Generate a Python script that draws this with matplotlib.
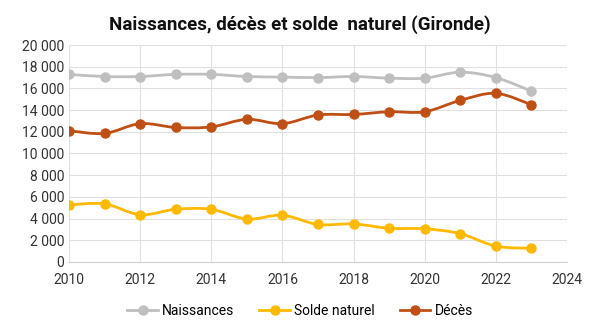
import matplotlib.pyplot as plt
from matplotlib.path import Path
from matplotlib.patches import PathPatch
from matplotlib.lines import Line2D
import numpy as np

years = [2010, 2011, 2012, 2013, 2014, 2015, 2016, 2017, 2018, 2019, 2020, 2021, 2022, 2023]
naissances = [17300, 17100, 17100, 17300, 17300, 17100, 17050, 17000, 17100, 16950, 16950, 17500, 17000, 15750]
deces = [12100, 11850, 12750, 12400, 12450, 13150, 12750, 13550, 13600, 13850, 13850, 14900, 15550, 14500]
solde = [5250, 5350, 4350, 4850, 4850, 3950, 4300, 3450, 3500, 3100, 3050, 2600, 1450, 1250]

series = [
    ("Naissances", naissances, "#BFBFBF"),
    ("Solde naturel", solde, "#FFB900"),
    ("Décès", deces, "#C04F15"),
]

plt.rcParams["font.family"] = ["Liberation Sans Narrow", "Roboto", "DejaVu Sans"]


def smooth_path(x, y, t=1 / 6):
    # Excel-like smoothed line as cubic bezier segments
    pts = np.column_stack([x, y]).astype(float)
    verts = [pts[0]]
    codes = [Path.MOVETO]
    n = len(pts)
    for i in range(n - 1):
        p0 = pts[i - 1] if i > 0 else pts[i]
        p1 = pts[i]
        p2 = pts[i + 1]
        p3 = pts[i + 2] if i + 2 < n else pts[i + 1]
        c1 = p1 + (p2 - p0) * t
        c2 = p2 - (p3 - p1) * t
        verts += [c1, c2, p2]
        codes += [Path.CURVE4] * 3
    return Path(verts, codes)


fig = plt.figure(figsize=(6, 3.34), dpi=100)
ax = fig.add_axes([0.115, 0.216, 0.83, 0.649])

for name, vals, col in series:
    ax.add_patch(PathPatch(smooth_path(years, vals), facecolor="none",
                           edgecolor=col, lw=2, zorder=3))
    ax.plot(years, vals, linestyle="none", marker="o", markersize=6.5,
            color=col, zorder=4)

ax.set_xlim(2010, 2024)
ax.set_ylim(0, 20000)
ax.set_xticks(range(2010, 2025, 2))
ax.set_yticks(range(0, 20001, 2000))
ax.set_yticklabels([f"{v:,}".replace(",", " ") for v in range(0, 20001, 2000)])
ax.grid(True, color="#E0E0E0", lw=0.8)
ax.set_axisbelow(True)
for s in ["top", "right", "left"]:
    ax.spines[s].set_visible(False)
ax.spines["bottom"].set_color("#D0D0D0")
ax.tick_params(length=0, labelsize=10, colors="#333333")
ax.tick_params(axis="x", pad=8)

fig.suptitle("Naissances, décès et solde  naturel (Gironde)", y=0.955,
             fontsize=13.5, fontweight="bold", color="#111111")

handles = [Line2D([], [], color=c, lw=2, marker="o", markersize=6.5) for _, _, c in series]
fig.legend(handles, [n for n, _, _ in series], loc="center", ncol=3,
           bbox_to_anchor=(0.5, 0.07), frameon=False, fontsize=10,
           handlelength=2.2, handletextpad=0.3, columnspacing=1.8)

fig.savefig("out.png", dpi=100)
